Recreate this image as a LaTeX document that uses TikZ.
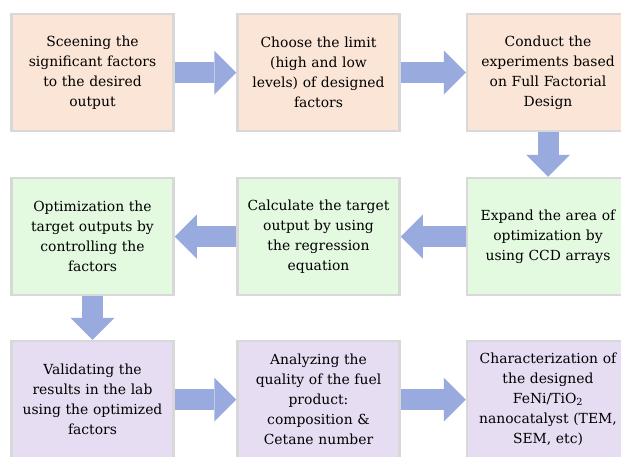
\documentclass[tikz,border=0pt]{standalone}
\usepackage{fontspec}
\setmainfont{DejaVu Serif}
\usetikzlibrary{arrows.meta}
\definecolor{peach}{HTML}{FBE5D6}
\definecolor{mint}{HTML}{E3FAE1}
\definecolor{lilac}{HTML}{E6DDF2}
\definecolor{edgegray}{HTML}{D8D8D8}
\definecolor{flowblue}{HTML}{99AADE}
\tikzset{
  stage/.style={draw=edgegray, line width=2.5pt, minimum width=162pt,
    minimum height=117pt, text width=160pt, align=center, inner sep=0pt,
    font=\fontsize{13.9}{20}\selectfont},
  flow/.style={draw=flowblue, line width=21pt,
    -{Triangle[width=44pt,length=22pt,line width=0pt]}}
}
\begin{document}
\begin{tikzpicture}[x=1pt,y=-1pt]
    \useasboundingbox (0,0) rectangle (621,456);
    \clip (0,0) rectangle (621,456);

    % First row: screening and design of the experiments
    \node[stage, fill=peach] (screen) at (92.5,72.5) {Sceening the\\ significant factors\\ to the desired\\ output};
    \node[stage, fill=peach] (limit) at (318.5,72.5) {Choose the limit\\ (high and low\\ levels) of designed\\ factors};
    \node[stage, fill=peach] (conduct) at (548,72.5) {Conduct the\\ experiments based\\ on Full Factorial\\ Design};

    % Second row: optimization
    \node[stage, fill=mint] (expand) at (548,236.5) {Expand the area of\\ optimization by\\ using CCD arrays};
    \node[stage, fill=mint] (calc) at (318.5,236.5) {Calculate the target\\ output by using\\ the regression\\ equation};
    \node[stage, fill=mint] (optim) at (92.5,236.5) {Optimization the\\ target outputs by\\ controlling the\\ factors};

    % Third row: validation and analysis
    \node[stage, fill=lilac] (valid) at (92.5,399.5) {Validating the\\ results in the lab\\ using the optimized\\ factors};
    \node[stage, fill=lilac] (analyze) at (318.5,399.5) {Analyzing the\\ quality of the fuel\\ product:\\ composition \&\\ Cetane number};
    \node[stage, fill=lilac] (charact) at (548,399.5) {Characterization of\\ the designed\\ FeNi/TiO\textsubscript{2}\\ nanocatalyst (TEM,\\ SEM, etc)};

    % Block arrows between the steps
    \draw[flow] (screen) -- (limit);
    \draw[flow] (limit) -- (conduct);
    \draw[flow] (conduct) -- (expand);
    \draw[flow] (expand) -- (calc);
    \draw[flow] (calc) -- (optim);
    \draw[flow] (optim) -- (valid);
    \draw[flow] (valid) -- (analyze);
    \draw[flow] (analyze) -- (charact);

\end{tikzpicture}
\end{document}
